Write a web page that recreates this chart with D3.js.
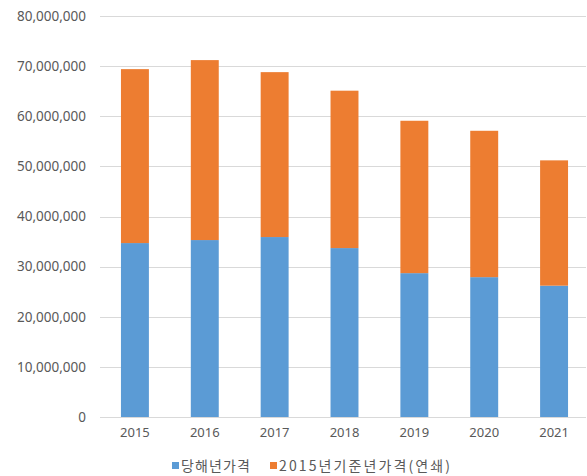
<!DOCTYPE html>
<html><head><meta charset="utf-8">
<script src="https://cdn.jsdelivr.net/npm/d3@7"></script>
<style>body{margin:0;background:#fff;} svg{display:block;}</style>
</head><body>
<svg id="c" width="587" height="476"></svg>
<script>
const years = ["2015","2016","2017","2018","2019","2020","2021"];
const currentPrice = [34700000, 35300000, 35900000, 33700000, 28700000, 27900000, 26200000];
const chainedPrice = [34700000, 35900000, 32900000, 31400000, 30400000, 29200000, 25000000];
const seriesNames = ["당해년가격", "2015년기준년가격(연쇄)"];
const yTicks = [0,10000000,20000000,30000000,40000000,50000000,60000000,70000000,80000000];
const colors = ["#5B9BD5", "#ED7D31"];

const svg = d3.select("#c");
const font = "'Noto Sans','Noto Sans CJK KR',sans-serif";
const x = d3.scaleBand().domain(years).range([100, 589]).paddingInner(0.6).paddingOuter(0.3);
const y = d3.scaleLinear().domain([0, 80000000]).range([417, 16]);

// gridlines
svg.append("g").selectAll("line").data(yTicks).join("line")
  .attr("x1", 100).attr("x2", 586)
  .attr("y1", d => Math.round(y(d)) + 0.5).attr("y2", d => Math.round(y(d)) + 0.5)
  .attr("stroke", "#D9D9D9").attr("stroke-width", 1);

// y labels
const yAxis = d3.axisLeft(y).tickValues(yTicks).tickSize(0).tickPadding(0)
  .tickFormat(d3.format(","));
const ya = svg.append("g").attr("transform", "translate(86,0)").call(yAxis);
ya.select(".domain").remove();
ya.selectAll("text").attr("fill", "#595959").style("font-family", font).style("font-size", "13.5px");

// stacked bars
const data = years.map((yr, i) => ({year: yr, a: currentPrice[i], b: chainedPrice[i]}));
const stack = d3.stack().keys(["a","b"])(data);
svg.append("g").selectAll("g").data(stack).join("g")
  .attr("fill", (d, i) => colors[i])
  .selectAll("rect").data(d => d).join("rect")
  .attr("x", d => x(d.data.year))
  .attr("width", x.bandwidth())
  .attr("y", d => y(d[1]))
  .attr("height", d => y(d[0]) - y(d[1]));

// x labels
const xAxis = d3.axisBottom(x).tickSize(0).tickPadding(0);
const xa = svg.append("g").attr("transform", "translate(0,428)").call(xAxis);
xa.select(".domain").remove();
xa.selectAll("text").attr("fill", "#595959").style("font-family", font).style("font-size", "13px");

// legend
const legX = [172, 270];
const legW = [69, 171];
const lg = svg.append("g");
seriesNames.forEach((n, i) => {
  lg.append("rect").attr("x", legX[i]).attr("y", 462).attr("width", 7).attr("height", 7).attr("fill", colors[i]);
  lg.append("text").attr("x", legX[i] + 9).attr("y", 471).text(n)
    .attr("textLength", legW[i]).attr("lengthAdjust", "spacing")
    .attr("fill", "#595959").style("font-family", "'Noto Sans CJK KR',sans-serif").style("font-size", "14px");
});
</script>
</body></html>
